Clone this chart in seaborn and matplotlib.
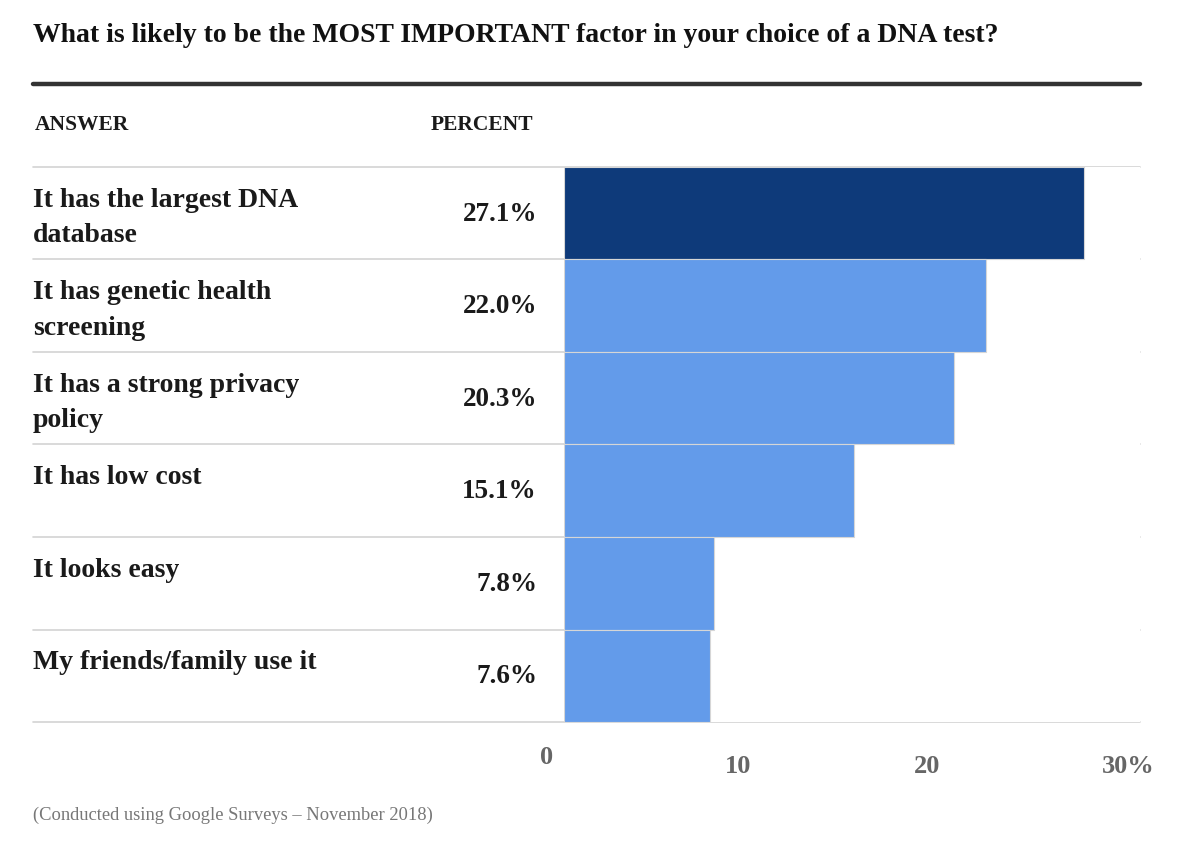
import matplotlib
matplotlib.use("Agg")
import matplotlib.pyplot as plt
import matplotlib.transforms as mtransforms
from matplotlib.lines import Line2D
import seaborn as sns
import pandas as pd

title = "What is likely to be the MOST IMPORTANT factor in your choice of a DNA test?"
answers = [
    "It has the largest DNA\ndatabase",
    "It has genetic health\nscreening",
    "It has a strong privacy\npolicy",
    "It has low cost",
    "It looks easy",
    "My friends/family use it",
]
percents = [27.1, 22.0, 20.3, 15.1, 7.8, 7.6]
tick_values = [0, 10, 20, 30]
tick_labels = ["0", "10", "20", "30%"]
footnote = "(Conducted using Google Surveys \u2013 November 2018)"

sns.set_theme(style="white")
plt.rcParams["font.family"] = ["Liberation Serif", "DejaVu Serif"]

W, H = 1200, 846
fig = plt.figure(figsize=(12, 8.46), dpi=100)

def fx(px):
    return px / W

def fy(py):
    return 1 - py / H

# plot area: x 564..1140 px, y 167..722 px
ax = fig.add_axes([fx(564), fy(722), fx(1140) - fx(564), fy(167) - fy(722)])

df = pd.DataFrame({"answer": answers, "percent": percents})
palette = ["#0e3a7a"] + ["#639bea"] * (len(answers) - 1)
sns.barplot(data=df, x="percent", y="answer", hue="answer", palette=palette,
            legend=False, width=1.0, saturation=1, edgecolor="#d6d6d6",
            linewidth=0.8, ax=ax)

ax.set_xlim(0, 30)
ax.set_ylim(len(answers) - 0.5, -0.5)
ax.set_xlabel("")
ax.set_ylabel("")
ax.set_yticks([])
for s in ax.spines.values():
    s.set_visible(False)

ax.set_xticks(tick_values)
ax.set_xticklabels(tick_labels, fontsize=19, fontweight="bold", color="#666666")
ax.tick_params(axis="x", length=0, pad=24)
offsets = [(-17, 9), (-18, 0), (-21, 0), (-12, 0)]
for lab, (dx, dy) in zip(ax.get_xticklabels(), offsets):
    lab.set_transform(lab.get_transform() +
                      mtransforms.ScaledTranslation(dx / 100, dy / 100, fig.dpi_scale_trans))

# row separators spanning the full table width
blend = mtransforms.blended_transform_factory(fig.transFigure, ax.transData)
for i in range(len(answers) + 1):
    fig.add_artist(Line2D([fx(33), fx(1140)], [i - 0.5, i - 0.5], transform=blend,
                          color="#d3d3d3", lw=1.2, zorder=0))

# row labels and values
for i, (a, p) in enumerate(zip(answers, percents)):
    fig.text(fx(33), i - 0.5 + 0.225, a, transform=blend, ha="left", va="top",
             fontsize=20, fontweight="bold", color="#1a1a1a", linespacing=1.55)
    fig.text(fx(537), i + 0.01, f"{p:.1f}%", transform=blend, ha="right", va="center",
             fontsize=19.5, fontweight="bold", color="#1a1a1a")

fig.text(fx(33), fy(35), title, ha="left", va="center", fontsize=20,
         fontweight="bold", color="#111111")
fig.add_artist(Line2D([fx(33), fx(1140)], [fy(84), fy(84)], transform=fig.transFigure,
                      color="#333333", lw=3.2))
fig.text(fx(35), fy(125), "ANSWER", ha="left", va="center", fontsize=15.5,
         fontweight="bold", color="#1a1a1a")
fig.text(fx(533), fy(125), "PERCENT", ha="right", va="center", fontsize=15.5,
         fontweight="bold", color="#1a1a1a")
fig.text(fx(33), fy(815), footnote, ha="left", va="center", fontsize=13.3,
         color="#777777")

fig.savefig("out.png", dpi=100, facecolor="white")
